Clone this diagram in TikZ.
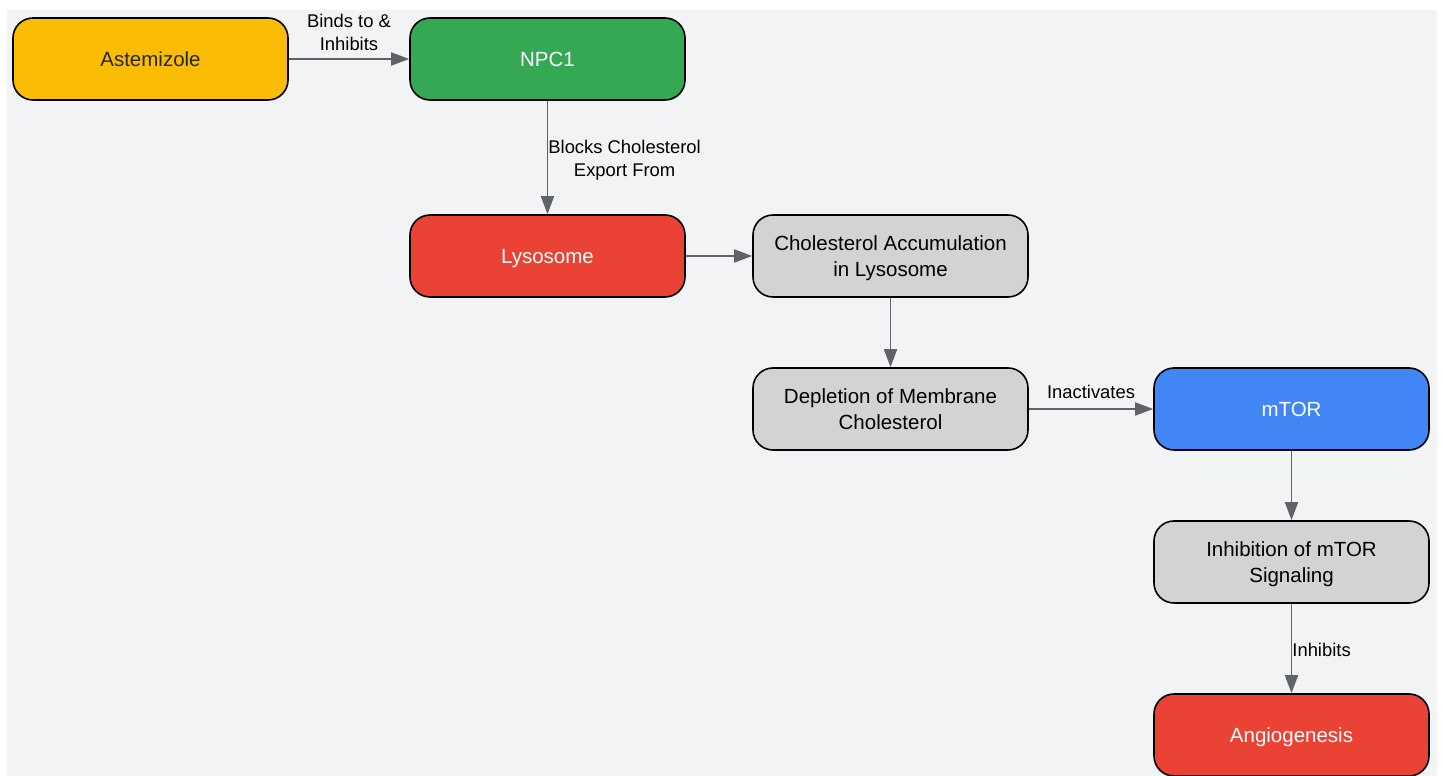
\documentclass[tikz,border=0pt]{standalone}
\usepackage{fontspec}
\setmainfont{Liberation Sans}
\usetikzlibrary{arrows.meta}
\definecolor{bggray}{HTML}{F1F3F5}
\definecolor{astyellow}{HTML}{FBBC05}
\definecolor{npcgreen}{HTML}{34A853}
\definecolor{lysred}{HTML}{EA4335}
\definecolor{mtorblue}{HTML}{4285F4}
\definecolor{stepgray}{HTML}{D3D3D3}
\definecolor{linkgray}{HTML}{5F6368}
\begin{document}
\begin{tikzpicture}
[x=1pt,y=1pt,
box/.style={draw=black,line width=1.6pt,rounded corners=20pt,minimum width=275pt,minimum height=82pt,align=center,text depth=0pt,font=\fontsize{20.5}{26}\selectfont},
link/.style={draw=linkgray,line width=1.8pt,-{Triangle[length=18pt,width=13pt]}},
lab/.style={align=center,inner sep=0pt,font=\fontsize{18.4}{23}\selectfont}]
\useasboundingbox (0,0) rectangle (1443,776);
\fill[bggray] (7,0) rectangle (1437,766);
\node[box,fill=astyellow,text=black!85] (ast) at (150.5,717) {Astemizole};
\node[box,fill=npcgreen,text=white] (npc) at (547.5,717) {NPC1};
\node[box,fill=lysred,text=white] (lys) at (547.5,520) {Lysosome};
\node[box,fill=stepgray] (acc) at (890.5,520) {Cholesterol Accumulation\\in Lysosome};
\node[box,fill=stepgray] (dep) at (890.5,367) {Depletion of Membrane\\Cholesterol};
\node[box,fill=mtorblue,text=white] (mtor) at (1291.5,367) {mTOR};
\node[box,fill=stepgray] (inh) at (1291.5,214) {Inhibition of mTOR\\Signaling};
\node[box,fill=lysred,text=white] (ang) at (1291.5,41) {Angiogenesis};
\foreach \from/\to in {lys/acc,acc/dep,mtor/inh}
\draw[link] (\from) -- (\to);
\draw[link] (ast) -- node[lab,above=7pt] {Binds to \&\\Inhibits} (npc);
\draw[link] (npc) -- node[lab,right=0pt,yshift=-3pt] {Blocks Cholesterol\\Export From} (lys);
\draw[link] (dep) -- node[lab,above=9pt] {Inactivates} (mtor);
\draw[link] (inh) -- node[lab,right=0pt,yshift=-1pt] {Inhibits} (ang);
\end{tikzpicture}
\end{document}
